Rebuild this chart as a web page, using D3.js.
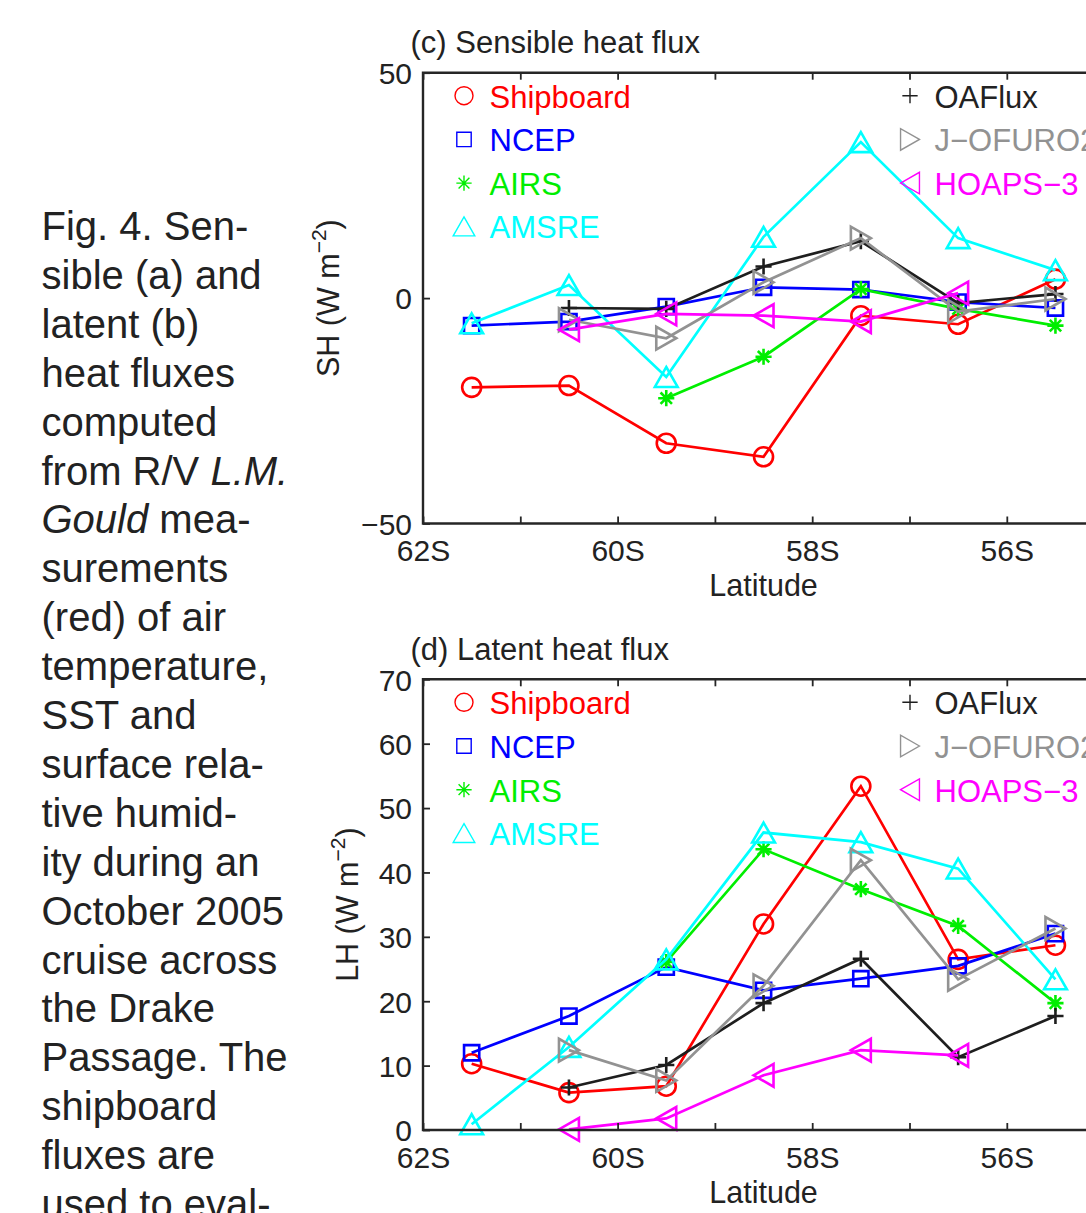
<!DOCTYPE html>
<html><head><meta charset="utf-8">
<script src="https://cdn.jsdelivr.net/npm/d3@7"></script>
<style>
html,body{margin:0;padding:0;background:#fff;overflow:hidden}
svg{display:block;font-family:"Liberation Sans",Arial,Helvetica,sans-serif}
</style></head>
<body>
<svg id="c" width="1086" height="1213"></svg>
<script>
// ---------- data ----------
const latitudes = [-61.5, -60.5, -59.5, -58.5, -57.5, -56.5, -55.5];
const seriesNames = ["Shipboard", "NCEP", "AIRS", "AMSRE", "OAFlux", "J−OFURO2", "HOAPS−3"];
const seriesColors = ["#ff0000", "#0000ff", "#00ee00", "#00ffff", "#1e1e1e", "#929292", "#ff00ff"];
const seriesMarkers = ["circle", "square", "star", "triUp", "plus", "triRight", "triLeft"];

// Sensible heat flux (W m^-2)
const shShipboard = [-19.8, -19.4, -32.2, -35.2, -3.9, -5.8, 4.2];
const shNCEP      = [-6.1, -5.2, -1.9, 2.4, 1.9, -0.9, -2.2];
const shAIRS      = [null, null, -22.2, -13.0, 2.0, -2.4, -6.1];
const shAMSRE     = [-5.6, 2.9, -17.5, 13.6, 34.6, 13.3, 6.2];
const shOAFlux    = [null, -2.2, -2.4, 7.0, 12.6, -1.1, 0.9];
const shJOFURO2   = [null, -4.8, -8.9, 3.5, 13.3, -3.0, -0.2];
const shHOAPS3    = [null, -7.0, -3.5, -3.9, -5.2, 1.1, null];

// Latent heat flux (W m^-2)
const lhShipboard = [10.3, 5.8, 6.8, 32.0, 53.4, 26.5, 28.7];
const lhNCEP      = [12.0, 17.7, 25.3, 21.7, 23.5, 25.5, 30.5];
const lhAIRS      = [null, null, 26.1, 43.6, 37.4, 31.7, 19.7];
const lhAMSRE     = [0.9, 12.9, 26.5, 46.2, 44.7, 40.6, 23.4];
const lhOAFlux    = [null, 6.6, 10.1, 19.7, 26.6, 11.3, 17.7];
const lhJOFURO2   = [null, 12.4, 7.7, 22.4, 41.9, 23.4, 31.3];
const lhHOAPS3    = [null, 0.1, 1.8, 8.5, 12.4, 11.6, null];

const xTicks = [-62, -61, -60, -59, -58, -57, -56, -55];
const xTickLabels = {"-62": "62S", "-60": "60S", "-58": "58S", "-56": "56S"};
const shTicks = [-50, 0, 50];
const shTickLabels = ["−50", "0", "50"];
const lhTicks = [0, 10, 20, 30, 40, 50, 60, 70];

const captionLines = [
  [["Fig. 4. Sen-", 0]], [["sible (a) and", 0]], [["latent (b)", 0]], [["heat fluxes", 0]],
  [["computed", 0]], [["from R/V ", 0], ["L.M.", 1]], [["Gould", 1], [" mea-", 0]],
  [["surements", 0]], [["(red) of air", 0]], [["temperature,", 0]], [["SST and", 0]],
  [["surface rela-", 0]], [["tive humid-", 0]], [["ity during an", 0]], [["October 2005", 0]],
  [["cruise across", 0]], [["the Drake", 0]], [["Passage. The", 0]], [["shipboard", 0]],
  [["fluxes are", 0]], [["used to eval-", 0]]
];

// ---------- drawing ----------
const svg = d3.select("#c");
const textCol = "#222";

// caption
const cap = svg.append("text").attr("font-size", 40).attr("fill", textCol);
captionLines.forEach((line, i) => {
  line.forEach((seg, j) => {
    const t = cap.append("tspan").text(seg[0]).attr("font-style", seg[1] ? "italic" : "normal");
    if (j === 0) t.attr("x", 41.5).attr("y", 240 + i * 48.9);
  });
});

function markerPath(type, s) {
  const p = d3.path();
  switch (type) {
    case "circle": p.arc(0, 0, s, 0, 2 * Math.PI); break;
    case "square": p.rect(-s * 0.8, -s * 0.8, s * 1.6, s * 1.6); break;
    case "star": {
      const a = s * 0.85, d = a * 0.7071;
      p.moveTo(0, -a); p.lineTo(0, a); p.moveTo(-a, 0); p.lineTo(a, 0);
      p.moveTo(-d, -d); p.lineTo(d, d); p.moveTo(-d, d); p.lineTo(d, -d); break;
    }
    case "plus": {
      const a = s * 0.85;
      p.moveTo(0, -a); p.lineTo(0, a); p.moveTo(-a, 0); p.lineTo(a, 0); break;
    }
    case "triUp": p.moveTo(0, -s * 1.05); p.lineTo(s * 1.2, s * 1.05); p.lineTo(-s * 1.2, s * 1.05); p.closePath(); break;
    case "triRight": p.moveTo(s * 1.05, 0); p.lineTo(-s * 1.05, -s * 1.2); p.lineTo(-s * 1.05, s * 1.2); p.closePath(); break;
    case "triLeft": p.moveTo(-s * 1.05, 0); p.lineTo(s * 1.05, -s * 1.2); p.lineTo(s * 1.05, s * 1.2); p.closePath(); break;
  }
  return p.toString();
}

function panel(opts) {
  const g = svg.append("g");
  const x = d3.scaleLinear().domain([-62, -55]).range([423, 423 + 7 * 97.3]);
  const y = d3.scaleLinear().domain(opts.yDomain).range([opts.bottom, opts.top]);
  const axCol = "#262626";

  // data lines + markers
  opts.series.forEach((vals, k) => {
    const pts = latitudes.map((la, i) => [la, vals[i]]).filter(d => d[1] !== null);
    g.append("path").datum(pts)
      .attr("d", d3.line().x(d => x(d[0])).y(d => y(d[1])))
      .attr("fill", "none").attr("stroke", seriesColors[k]).attr("stroke-width", 2.7)
      .attr("stroke-linejoin", "miter");
    g.selectAll(null).data(pts).enter().append("path")
      .attr("transform", d => `translate(${x(d[0])},${y(d[1])})`)
      .attr("d", markerPath(seriesMarkers[k], 9.5))
      .attr("fill", "none").attr("stroke", seriesColors[k]).attr("stroke-width", 2.6);
  });

  // axes box (left, top, bottom)
  g.append("path")
    .attr("d", `M${x(-55) + 5},${y.range()[1]}H${x(-62)}V${y.range()[0]}H${x(-55) + 5}`)
    .attr("fill", "none").attr("stroke", axCol).attr("stroke-width", 2.4);

  // x ticks (inward top & bottom) and labels
  const xb = d3.axisBottom(x).tickValues(xTicks).tickSize(-7).tickPadding(14)
    .tickFormat(d => xTickLabels[String(d)] || "");
  const xa = g.append("g").attr("transform", `translate(0,${opts.bottom})`).call(xb);
  const xt = d3.axisTop(x).tickValues(xTicks).tickSize(-7).tickFormat("");
  const xa2 = g.append("g").attr("transform", `translate(0,${opts.top})`).call(xt);
  [xa, xa2].forEach(a => {
    a.select(".domain").remove();
    a.selectAll(".tick line").attr("stroke", axCol).attr("stroke-width", 1.8);
  });
  xa.selectAll(".tick text").attr("font-size", 30).attr("fill", textCol)
    .attr("font-family", "Liberation Sans, Arial, sans-serif").attr("dy", null)
    .attr("y", 37.5).attr("dominant-baseline", "auto");

  // y ticks
  const ya = g.append("g").attr("transform", `translate(${x(-62)},0)`)
    .call(d3.axisLeft(y).tickValues(opts.yTicks).tickSize(-7).tickPadding(11)
      .tickFormat((d, i) => opts.yLabels[i]));
  ya.select(".domain").remove();
  ya.selectAll(".tick line").attr("stroke", axCol).attr("stroke-width", 1.8);
  ya.selectAll(".tick text").attr("font-size", 30).attr("fill", textCol)
    .attr("font-family", "Liberation Sans, Arial, sans-serif").attr("x", -11).attr("dy", "0.36em");

  // title
  g.append("text").attr("x", 410.5).attr("y", opts.top - 19.5).attr("font-size", 31)
    .attr("fill", textCol).text(opts.title);

  // x label
  g.append("text").attr("x", (x(-62) + x(-55)) / 2).attr("y", opts.bottom + 72.5)
    .attr("text-anchor", "middle").attr("font-size", 30.5).attr("fill", textCol).text("Latitude");

  // y label
  const yl = g.append("text")
    .attr("transform", `translate(${opts.yLabelX},${(opts.top + opts.bottom) / 2}) rotate(-90)`)
    .attr("text-anchor", "middle").attr("font-size", 30.5).attr("fill", textCol);
  yl.append("tspan").text(opts.yName + " (W m");
  yl.append("tspan").text("−2").attr("font-size", 21).attr("dy", -13);
  yl.append("tspan").text(")").attr("dy", 13);

  // legend
  const legRows = [35, 78.7, 122.4, 165.7];
  const leg = (k, mx, tx, row) => {
    const by = opts.top + legRows[row];
    g.append("path").attr("transform", `translate(${mx},${by - 12})`)
      .attr("d", markerPath(seriesMarkers[k], 9))
      .attr("fill", "none").attr("stroke", seriesColors[k]).attr("stroke-width", 1.4);
    g.append("text").attr("x", tx).attr("y", by).attr("font-size", 31)
      .attr("fill", seriesColors[k] === "#1e1e1e" ? textCol : seriesColors[k]).text(seriesNames[k]);
  };
  [0, 1, 2, 3].forEach(k => leg(k, 464, 489.5, k));
  [4, 5, 6].forEach((k, r) => leg(k, 910, 934.5, r));
}

panel({
  top: 72.7, bottom: 523.5, yDomain: [-50, 50], yTicks: shTicks, yLabels: shTickLabels,
  series: [shShipboard, shNCEP, shAIRS, shAMSRE, shOAFlux, shJOFURO2, shHOAPS3],
  title: "(c) Sensible heat flux", yName: "SH", yLabelX: 339
});
panel({
  top: 679.3, bottom: 1130, yDomain: [0, 70], yTicks: lhTicks, yLabels: lhTicks.map(String),
  series: [lhShipboard, lhNCEP, lhAIRS, lhAMSRE, lhOAFlux, lhJOFURO2, lhHOAPS3],
  title: "(d) Latent heat flux", yName: "LH", yLabelX: 358
});
</script>
</body></html>
